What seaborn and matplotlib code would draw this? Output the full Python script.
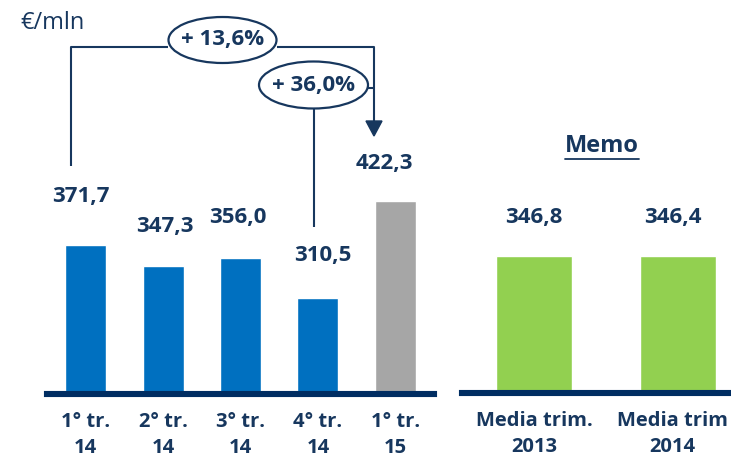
import matplotlib
matplotlib.use("Agg")
import matplotlib.pyplot as plt
from matplotlib.patches import Ellipse, Polygon
from matplotlib.lines import Line2D
from matplotlib.transforms import ScaledTranslation
import numpy as np
import pandas as pd
import seaborn as sns

# data
quarters = ['1° tr.\n14', '2° tr.\n14', '3° tr.\n14', '4° tr.\n14', '1° tr.\n15']
quarter_values = [371.7, 347.3, 356.0, 310.5, 422.3]
memo_labels = ['Media trim.\n2013', 'Media trim\n2014']
memo_values = [346.8, 346.4]
growth_labels = ['+ 13,6%', '+ 36,0%']

NAVY = '#17375E'
BASE = '#002D62'
BLUE = '#0070C0'
GREY = '#A6A6A6'
GREEN = '#92D050'

W, H = 731, 461
FS = 16

sns.set_theme(style='white')
plt.rcParams['font.family'] = ['Open Sans', 'DejaVu Sans']

fig = plt.figure(figsize=(W / 100, H / 100), dpi=100)


def fx(px):
    return px / W


def fy(py):
    return 1 - py / H


def fmt(v):
    return f'{v:.1f}'.replace('.', ',')


def style_ax(ax, size):
    for s in ['left', 'right', 'top']:
        ax.spines[s].set_visible(False)
    ax.spines['bottom'].set_color(BASE)
    ax.spines['bottom'].set_linewidth(4.4)
    ax.spines['bottom'].set_zorder(5)
    ax.set_yticks([])
    ax.set_xlabel('')
    ax.set_ylabel('')
    ax.tick_params(axis='x', length=0, pad=13)
    for t in ax.get_xticklabels():
        t.set_fontsize(size)
        t.set_fontweight('bold')
        t.set_color(NAVY)
        t.set_linespacing(1.38)
    ax.patch.set_alpha(0)


# left panel: quarters
ax1 = fig.add_axes([fx(47), fy(394), fx(434 - 47), 394 / H])
df1 = pd.DataFrame({'quarter': quarters, 'value': quarter_values})
sns.barplot(data=df1, x='quarter', y='value', hue='quarter', saturation=1,
            palette=[BLUE] * 4 + [GREY], width=0.53, legend=False, ax=ax1)
ax1.set_xlim(-0.5, 4.5)
ax1.set_ylim(199.5, 654.5)
style_ax(ax1, 14.5)

# label offsets (px) relative to bar top / centre
off1 = [(-5, 48), (2, 40), (-3, 41), (5, 42), (-11, 38)]
for i, v in enumerate(quarter_values):
    dx, dy = off1[i]
    ax1.annotate(fmt(v), xy=(i, v), xytext=(dx * 0.72, dy * 0.72), textcoords='offset points',
                 ha='center', va='center', fontsize=FS, fontweight='bold', color=NAVY)

# right panel: memo
ax2 = fig.add_axes([fx(462), fy(393), fx(731 - 462), 393 / H])
df2 = pd.DataFrame({'label': memo_labels, 'value': memo_values})
sns.barplot(data=df2, x='label', y='value', color=GREEN, saturation=1, width=0.527, ax=ax2)
ax2.set_xlim(-0.5, 1.37)
ax2.set_ylim(0, 995)
style_ax(ax2, 14.5)
lab2 = ax2.get_xticklabels()[1]
lab2.set_transform(lab2.get_transform() + ScaledTranslation(-5 / 100, 0, fig.dpi_scale_trans))

off2 = [(0, 39), (-5, 39)]
for i, v in enumerate(memo_values):
    dx, dy = off2[i]
    ax2.annotate(fmt(v), xy=(i, v), xytext=(dx * 0.72, dy * 0.72), textcoords='offset points',
                 ha='center', va='center', fontsize=FS, fontweight='bold', color=NAVY)

# unit
fig.text(fx(20), fy(23), '€/mln', ha='left', va='center', fontsize=17, color=NAVY)

# Memo title, underlined
memo = fig.text(fx(602), fy(146), 'Memo', ha='center', va='center', fontsize=17,
                fontweight='bold', color=NAVY)
fig.canvas.draw()
bb = memo.get_window_extent().transformed(fig.transFigure.inverted())
fig.add_artist(Line2D([bb.x0, bb.x1], [fy(159), fy(159)], transform=fig.transFigure,
                      color=NAVY, lw=1.3))

# growth brackets
lw = 1.5
def seg(xs, ys):
    fig.add_artist(Line2D([fx(x) for x in xs], [fy(y) for y in ys], transform=fig.transFigure,
                          color=NAVY, lw=lw, solid_capstyle='butt'))

seg([71, 71, 168], [166, 47.5, 47.5])
seg([277, 374, 374], [47.5, 47.5, 122])
fig.add_artist(Polygon([(fx(366), fy(121)), (fx(382), fy(121)), (fx(374), fy(136))],
                       closed=True, transform=fig.transFigure, color=NAVY))
seg([368, 374], [88, 88])
seg([313.5, 313.5], [109, 227])

for (cx, cy, w, h), lab in zip([(222.5, 40, 108, 46), (313.5, 85, 109, 47)], growth_labels):
    fig.add_artist(Ellipse((fx(cx), fy(cy)), fx(w), h / H, transform=fig.transFigure,
                           facecolor='white', edgecolor=NAVY, lw=1.6))
    fig.text(fx(cx), fy(cy), lab, ha='center', va='center', fontsize=FS,
             fontweight='bold', color=NAVY)

fig.savefig('out.png', dpi=100)
